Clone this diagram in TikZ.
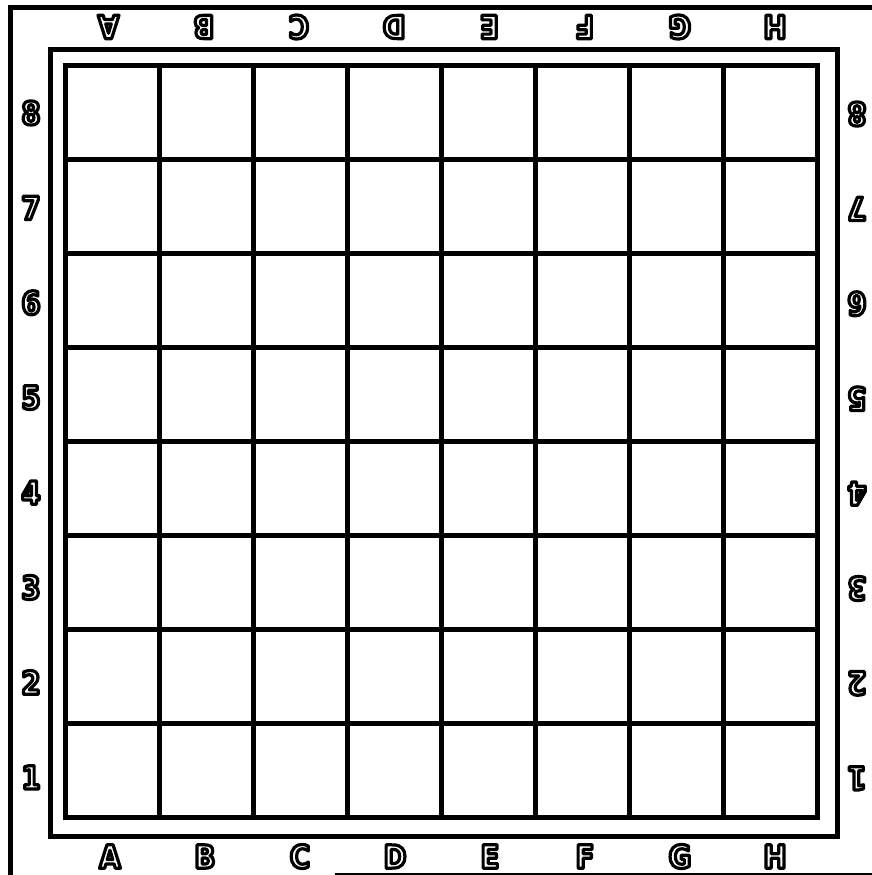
\documentclass[tikz,border=0pt]{standalone}
\usepackage{fontspec}
\setmainfont{DejaVu Sans}
\newfontfamily\labfont[FakeStretch=0.86]{DejaVu Sans Bold}
\newcommand\hollow[1]{\special{pdf:code q 2 Tr 3.2 w 1 j 0 G 1 g}#1\special{pdf:code Q}}
\tikzset{
  lab/.style={inner sep=0pt,font=\labfont\fontsize{32}{32}\selectfont},
  frame/.style={line width=5pt,line cap=rect},
  gridline/.style={line width=4.5pt},
}
\begin{document}
\begin{tikzpicture}[x=1pt,y=-1pt]
\useasboundingbox (0,0) rectangle (872,875);
\fill[white] (0,0) rectangle (872,875);
% outer frame
\draw[line width=5pt] (10.5,875) -- (10.5,7.5) -- (872,7.5);
\draw[line width=2pt] (335,873.5) -- (872,873.5);
% middle frame
\draw[frame] (50.5,49.5) rectangle (837.5,836);
% board
\draw[line width=5.5pt,line cap=rect] (65.5,65.5) rectangle (817.5,817.5);
\foreach \i in {1,...,7}{
  \draw[gridline] ({65.5+94*\i},65.5) -- ({65.5+94*\i},817.5);
  \draw[gridline] (65.5,{65.5+94*\i}) -- (817.5,{65.5+94*\i});
}
% file letters
\foreach \L [count=\k from 0] in {A,B,C,D,E,F,G,H}{
  \node[lab] (b\L) at ({110+95*\k},856.5) {\hollow{\L}};
  \node[lab,rotate=180] (t\L) at ({108.5+95.2*\k},27) {\hollow{\L}};
}
% rank numbers
\foreach \n [count=\k from 0] in {8,7,6,5,4,3,2,1}{
  \node[lab] (l\n) at (31,{113+94.9*\k}) {\hollow{\n}};
  \node[lab,rotate=180] (r\n) at (857,{114+94.9*\k}) {\hollow{\n}};
}
\end{tikzpicture}
\end{document}
